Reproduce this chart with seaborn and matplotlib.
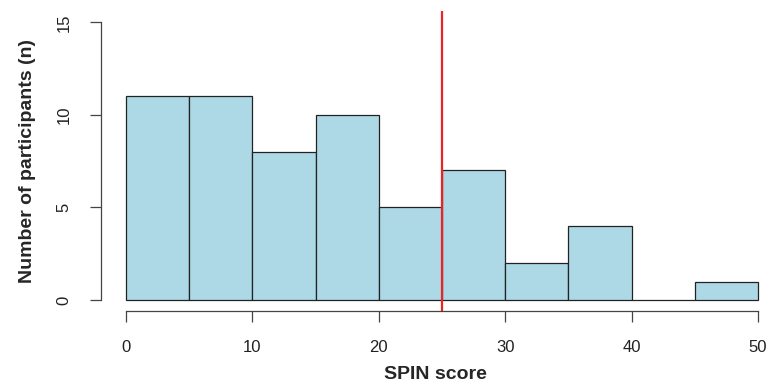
import numpy as np
import pandas as pd
import matplotlib
matplotlib.use("Agg")
import matplotlib.pyplot as plt
import seaborn as sns

# histogram counts per 5-point SPIN bin
bin_edges = [0, 5, 10, 15, 20, 25, 30, 35, 40, 45, 50]
counts = [11, 11, 8, 10, 5, 7, 2, 4, 0, 1]
cutoff = 25
x_ticks = [0, 10, 20, 30, 40, 50]
y_ticks = [0, 5, 10, 15]

df = pd.DataFrame({"score": bin_edges[:-1], "n": counts})
# put each weight in the middle of its bin
df["mid"] = df["score"] + 2.5

sns.set_style("white")
plt.rcParams["font.family"] = ["Liberation Sans", "DejaVu Sans"]

fig = plt.figure(figsize=(7.71, 3.9), dpi=100)
ax = fig.add_axes([0.1306, 0.2023, 1 - 0.1306, 0.9708 - 0.2023])

sns.histplot(data=df, x="mid", weights="n", bins=bin_edges, ax=ax,
             color="#ADD8E6", edgecolor="#222222", linewidth=0.9, alpha=1)
ax.axvline(cutoff, color="#EE2222", linewidth=1.6)

ax.set_xlim(-2, 51.03)
ax.set_ylim(-0.6, 15.6)

# R-style axes: detached lines covering the tick range only
for s in ["top", "right"]:
    ax.spines[s].set_visible(False)
ax.spines["left"].set_bounds(0, 15)
ax.spines["bottom"].set_bounds(0, 50)
for s in ["left", "bottom"]:
    ax.spines[s].set_color("#444444")
    ax.spines[s].set_linewidth(0.9)

ax.set_xticks(x_ticks)
ax.set_yticks(y_ticks)
ax.set_yticklabels([str(v) for v in y_ticks], rotation=90, va="center")
ax.tick_params(axis="both", direction="out", length=8, width=0.9,
               color="#444444", labelsize=12, labelcolor="#222222",
               left=True, bottom=True)
ax.tick_params(axis="x", pad=13)
ax.tick_params(axis="y", pad=13)

ax.set_xlabel("SPIN score", fontsize=14, fontweight="bold", labelpad=8)
ax.set_ylabel("Number of participants (n)", fontsize=14, fontweight="bold", labelpad=15)

fig.savefig("out.png", dpi=100)
